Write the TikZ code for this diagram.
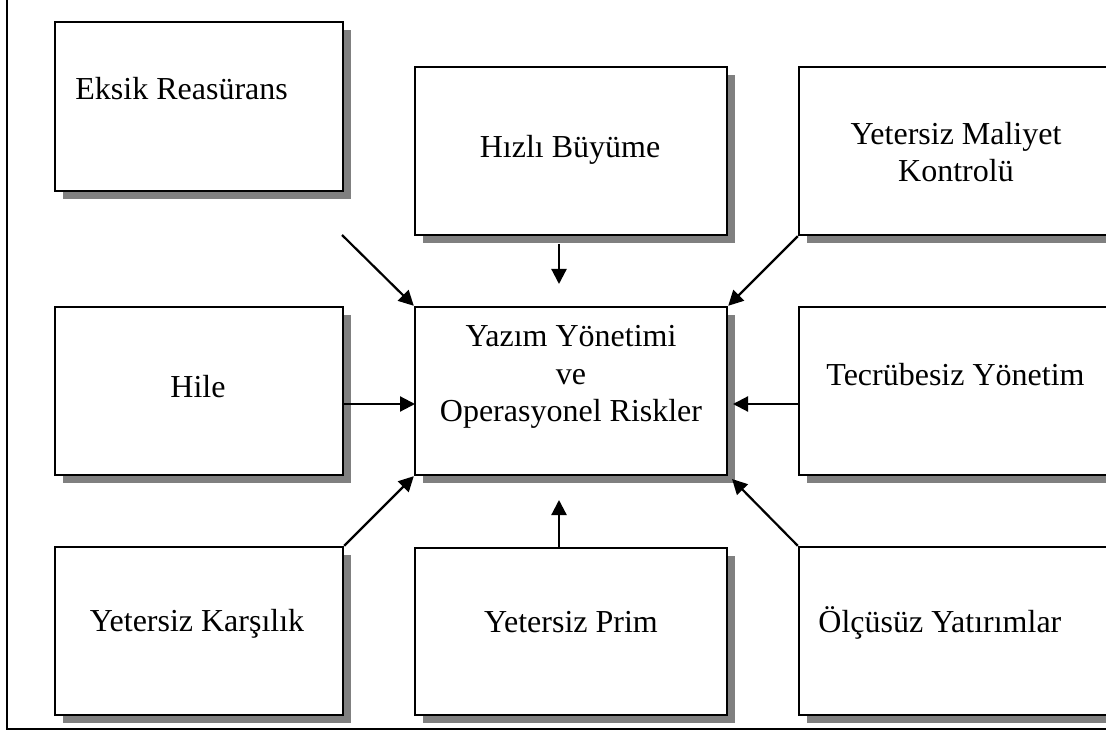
\documentclass[tikz,border=0pt]{standalone}
\usepackage{fontspec}
\setmainfont{Liberation Serif}
\usetikzlibrary{arrows.meta,fit}

\begin{document}
\begin{tikzpicture}[x=0.5pt,y=-0.5pt,
  box/.style={draw=black,line width=1.2pt,fill=white,inner sep=0pt,
    preaction={draw=none,fill=black!50,transform canvas={xshift=4pt,yshift=-4pt}}},
  lbl/.style={inner sep=0pt,align=center,font=\fontsize{16}{18.75}\selectfont},
  arr/.style={line width=1.1pt,-{Triangle[length=7.5pt,width=7.5pt]}}]
\useasboundingbox (0,0) rectangle (1106,731);
\clip (0,0) rectangle (1106,731);

% outer frame
\draw[line width=1.1pt] (7,-20) rectangle (1140,729);

% boxes
\node[box,fit={(55,22)(343,191)}]   (eksik) {};
\node[box,fit={(415,67)(727,235)}]  (hizli) {};
\node[box,fit={(799,67)(1130,235)}] (maliyet) {};
\node[box,fit={(55,307)(343,475)}]  (hile) {};
\node[box,fit={(415,307)(727,475)}] (center) {};
\node[box,fit={(799,307)(1130,475)}] (tecrube) {};
\node[box,fit={(55,547)(343,715)}]  (karsilik) {};
\node[box,fit={(415,548)(727,715)}] (prim) {};
\node[box,fit={(799,547)(1130,715)}] (olcusuz) {};

% labels (multi-line labels are placed by the baseline of their last line)
\node[lbl,anchor=base west] (t-eksik) at (75,100) {Eksik Reasürans};
\node[lbl,anchor=base] (t-hizli) at (570,158) {Hızlı Büyüme};
\node[lbl,anchor=base] (t-maliyet) at (956,182) {Yetersiz Maliyet\\Kontrolü};
\node[lbl,anchor=base] (t-hile) at (198,397) {Hile};
\node[lbl,anchor=base] (t-center) at (571,422) {Yazım Yönetimi\\ve\\Operasyonel Riskler};
\node[lbl,anchor=base west] (t-tecrube) at (826,386) {Tecrübesiz Yönetim};
\node[lbl,anchor=base] (t-karsilik) at (197,631) {Yetersiz Karşılık};
\node[lbl,anchor=base] (t-prim) at (571,632) {Yetersiz Prim};
\node[lbl,anchor=base west] (t-olcusuz) at (818,632) {Ölçüsüz Yatırımlar};

% free arrow ends
\coordinate (eksik-out) at (342,235);
\coordinate (hizli-out) at (559,244);
\coordinate (hizli-in)  at (559,284);
\coordinate (hile-out)  at (343,404);
\coordinate (hile-in)   at (415,404);
\coordinate (tecrube-out) at (799,404);
\coordinate (tecrube-in)  at (733,404);
\coordinate (prim-top)  at (559,548);
\coordinate (prim-in)   at (559,500);
\coordinate (olcusuz-in) at (732,479);

% arrows into the centre
\draw[arr] (eksik-out) -- (center.north west);
\draw[arr] (hizli-out) -- (hizli-in);
\draw[arr] (maliyet.south west) -- (center.north east);
\draw[arr] (hile-out) -- (hile-in);
\draw[arr] (tecrube-out) -- (tecrube-in);
\draw[arr] (karsilik.north east) -- (center.south west);
\draw[arr] (prim-top) -- (prim-in);
\draw[arr] (olcusuz.north west) -- (olcusuz-in);
\end{tikzpicture}
\end{document}
